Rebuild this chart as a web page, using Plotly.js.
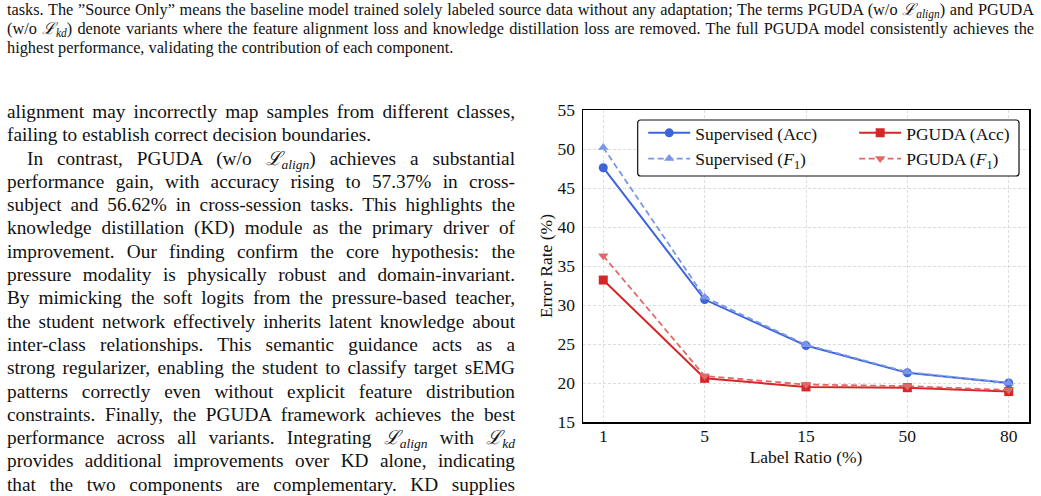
<!DOCTYPE html>
<html>
<head>
<meta charset="utf-8">
<script src="https://cdn.plot.ly/plotly-3.0.1.min.js"></script>
<style>
  html, body { margin: 0; padding: 0; background: #fff; }
  body { width: 1041px; height: 496px; overflow: hidden; position: relative;
         font-family: "Liberation Serif", "Times New Roman", serif; color: #111; }
  .cap { position: absolute; left: 7px; width: 1027px; top: -0.5px;
         font-size: 16.3px; line-height: 19px; }
  .col { position: absolute; left: 7px; width: 508px; top: 100px;
         font-size: 19.3px; line-height: 23.3px; }
  .j { text-align: justify; text-align-last: justify; white-space: nowrap; }
  .l { text-align: left; white-space: nowrap; }
  .ind { text-indent: 20px; }
  .cal { font-family: "DejaVu Serif", serif; font-style: italic; }
  sub { font-size: 70%; line-height: 0; vertical-align: -0.3em; font-style: italic; }
  #chart { position: absolute; left: 520px; top: 90px; width: 521px; height: 406px; }
</style>
</head>
<body>
<div class="cap">
  <div class="j">tasks. The ”Source Only” means the baseline model trained solely labeled source data without any adaptation; The terms PGUDA (w/o <span class="cal">ℒ</span><sub>align</sub>) and PGUDA</div>
  <div class="j">(w/o <span class="cal">ℒ</span><sub>kd</sub>) denote variants where the feature alignment loss and knowledge distillation loss are removed. The full PGUDA model consistently achieves the</div>
  <div class="l">highest performance, validating the contribution of each component.</div>
</div>

<div class="col">
  <div class="j">alignment may incorrectly map samples from different classes,</div>
  <div class="l">failing to establish correct decision boundaries.</div>
  <div class="j ind">In contrast, PGUDA (w/o <span class="cal">ℒ</span><sub>align</sub>) achieves a substantial</div>
  <div class="j">performance gain, with accuracy rising to 57.37% in cross-</div>
  <div class="j">subject and 56.62% in cross-session tasks. This highlights the</div>
  <div class="j">knowledge distillation (KD) module as the primary driver of</div>
  <div class="j">improvement. Our finding confirm the core hypothesis: the</div>
  <div class="j">pressure modality is physically robust and domain-invariant.</div>
  <div class="j">By mimicking the soft logits from the pressure-based teacher,</div>
  <div class="j">the student network effectively inherits latent knowledge about</div>
  <div class="j">inter-class relationships. This semantic guidance acts as a</div>
  <div class="j">strong regularizer, enabling the student to classify target sEMG</div>
  <div class="j">patterns correctly even without explicit feature distribution</div>
  <div class="j">constraints. Finally, the PGUDA framework achieves the best</div>
  <div class="j">performance across all variants. Integrating <span class="cal">ℒ</span><sub>align</sub> with <span class="cal">ℒ</span><sub>kd</sub></div>
  <div class="j">provides additional improvements over KD alone, indicating</div>
  <div class="j">that the two components are complementary. KD supplies</div>
</div>

<div id="chart"></div>

<script>
// Label ratios (%) on the x axis
const labelRatios = ['1', '5', '15', '50', '80'];

// Error rates (%) per label ratio
const supervisedAcc = [47.6, 30.7, 24.8, 21.3, 20.0];
const supervisedF1  = [50.2, 31.0, 24.9, 21.4, 20.0];
const pgudaAcc      = [33.2, 20.6, 19.5, 19.4, 18.9];
const pgudaF1       = [36.3, 20.9, 19.8, 19.6, 19.1];

const FONT = 'Liberation Serif, Times New Roman, serif';
const BLUE = '#3b64dd', BLUE_L = '#7a96ea';
const RED = '#d62728', RED_L = '#e26868';
const GRID = '#d4d4d4';

function series(name, y, color, dash, symbol, legend) {
  return {
    x: labelRatios, y: y, name: name, type: 'scatter', mode: 'lines+markers',
    line: { color: color, width: dash ? 1.8 : 2, dash: dash || 'solid' },
    marker: { color: color, size: 9, symbol: symbol },
    legend: legend
  };
}

const traces = [
  series('Supervised (Acc)', supervisedAcc, BLUE, null, 'circle', 'legend'),
  series('Supervised (<i>F</i><sub>1</sub>)', supervisedF1, BLUE_L, '6px,3.5px', 'triangle-up', 'legend'),
  series('PGUDA (Acc)', pgudaAcc, RED, null, 'square', 'legend2'),
  series('PGUDA (<i>F</i><sub>1</sub>)', pgudaF1, RED_L, '6px,3.5px', 'triangle-down', 'legend2')
];

// Legend frame with slightly rounded corners (paper coordinates)
const plotW = 446, plotH = 312;
const bx0 = 0.1226, bx1 = 0.9776, by0 = 0.7885, by1 = 0.968;
const rx = 3 / plotW, ry = 3 / plotH;
const framePath =
  `M ${bx0 + rx} ${by0} L ${bx1 - rx} ${by0} Q ${bx1} ${by0} ${bx1} ${by0 + ry} ` +
  `L ${bx1} ${by1 - ry} Q ${bx1} ${by1} ${bx1 - rx} ${by1} ` +
  `L ${bx0 + rx} ${by1} Q ${bx0} ${by1} ${bx0} ${by1 - ry} ` +
  `L ${bx0} ${by0 + ry} Q ${bx0} ${by0} ${bx0 + rx} ${by0} Z`;

const legendStyle = {
  bgcolor: 'rgba(0,0,0,0)', borderwidth: 0, itemwidth: 42,
  font: { family: FONT, size: 17.5, color: '#111' },
  yanchor: 'top', xanchor: 'left', tracegroupgap: 0
};

const layout = {
  width: 521, height: 406,
  margin: { l: 63, r: 12, t: 20, b: 74 },
  paper_bgcolor: '#fff', plot_bgcolor: '#fff',
  font: { family: FONT, size: 17.5, color: '#111' },
  showlegend: true,
  legend: Object.assign({ x: 0.135, y: 0.984 }, legendStyle),
  legend2: Object.assign({ x: 0.608, y: 0.984 }, legendStyle),
  xaxis: {
    type: 'category', categoryorder: 'array', categoryarray: labelRatios,
    range: [-0.2, 4.2],
    showgrid: true, gridcolor: GRID, gridwidth: 0.8, griddash: '3px,2px',
    showline: true, mirror: true, linecolor: '#000', linewidth: 1.5,
    ticks: '', ticklabelstandoff: -3,
    tickfont: { family: FONT, size: 17.5, color: '#111' },
    title: { text: 'Label Ratio (%)', font: { family: FONT, size: 17.5, color: '#111' }, standoff: 6 },
    zeroline: false
  },
  yaxis: {
    range: [15, 55], dtick: 5, tick0: 15,
    showgrid: true, gridcolor: GRID, gridwidth: 0.8, griddash: '3px,2px',
    showline: true, mirror: true, linecolor: '#000', linewidth: 1.5,
    ticks: '', ticklabelstandoff: 3,
    tickfont: { family: FONT, size: 17.5, color: '#111' },
    title: { text: 'Error Rate (%)', font: { family: FONT, size: 17.5, color: '#111' }, standoff: 0 },
    zeroline: false
  },
  shapes: [{
    type: 'path', xref: 'paper', yref: 'paper', layer: 'above',
    path: framePath, fillcolor: '#fff', line: { color: '#111', width: 1.2 }
  }]
};

Plotly.newPlot('chart', traces, layout, { displayModeBar: false, staticPlot: true });
</script>
</body>
</html>
